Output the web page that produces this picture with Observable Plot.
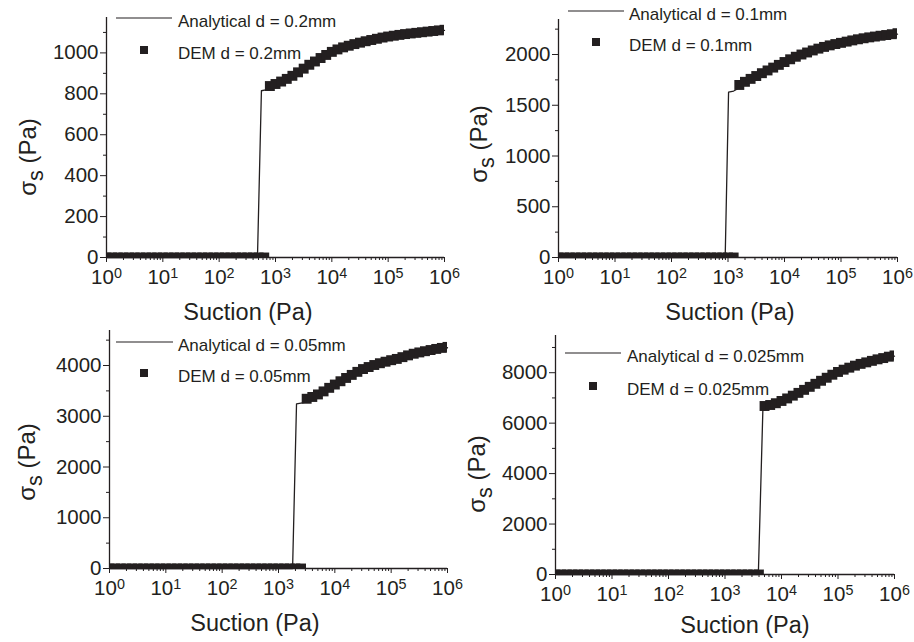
<!DOCTYPE html>
<html><head><meta charset="utf-8">
<script src="https://cdn.jsdelivr.net/npm/d3@7"></script>
<script src="https://cdn.jsdelivr.net/npm/@observablehq/plot@0.6"></script>
<style>
body{margin:0;background:#fff;}
#chart{position:relative;width:914px;height:642px;overflow:hidden;background:#fff;font-family:"Liberation Sans",Arial,sans-serif;}
#chart svg{position:absolute;left:0;top:0;}
</style></head><body><div id="chart"></div>
<script>
// Suction grid (log10 of suction, Pa) for the DEM points
const suctionExp = [0,0.1,0.2,0.3,0.4,0.5,0.6,0.7,0.8,0.9,1.0,1.1,1.2,1.3,1.4,1.5,1.6,1.7,1.8,1.9,2.0,2.1,2.2,2.3,2.4,2.5,2.6,2.7,2.8,2.9,3.0,3.1,3.2,3.3,3.4,3.5,3.6,3.7,3.8,3.9,4.0,4.1,4.2,4.3,4.4,4.5,4.6,4.7,4.8,4.9,5.0,5.1,5.2,5.3,5.4,5.5,5.6,5.7,5.8,5.9,6.0];

// DEM sigma_s (Pa) on the grid above
const dem02 = [0,0,0,0,0,0,0,0,0,0,0,0,0,0,0,0,0,0,0,0,0,0,0,0,0,0,0,0,0,
  838,848,860,873,888,905,923,942,958,975,990,1005,1017,1027,1035,1043,1050,1057,1063,1069,1075,1080,1084,1088,1092,1095,1098,1101,1104,1107,1110,1113];
const dem01 = [0,0,0,0,0,0,0,0,0,0,0,0,0,0,0,0,0,0,0,0,0,0,0,0,0,0,0,0,0,0,0,0,
  1700,1731,1760,1788,1816,1843,1871,1898,1926,1953,1978,2000,2020,2040,2058,2075,2090,2103,2115,2127,2139,2150,2160,2169,2177,2185,2192,2200,2210];
const dem005 = [0,0,0,0,0,0,0,0,0,0,0,0,0,0,0,0,0,0,0,0,0,0,0,0,0,0,0,0,0,0,0,0,0,0,0,
  3345,3380,3430,3490,3560,3625,3690,3755,3815,3875,3930,3970,4010,4045,4075,4105,4130,4165,4200,4232,4258,4282,4305,4327,4347,4367];
const dem0025 = [0,0,0,0,0,0,0,0,0,0,0,0,0,0,0,0,0,0,0,0,0,0,0,0,0,0,0,0,0,0,0,0,0,0,0,0,0,
  6680,6720,6790,6880,6980,7090,7200,7320,7440,7560,7680,7800,7920,8030,8120,8200,8280,8350,8410,8470,8530,8580,8635,8685];

// Analytical curves (log10 suction, sigma_s)
const ana02Exp = [0,2.68,2.75,2.85,3.2,3.5,4.0,4.5,5.0,5.5,6.0];
const ana02    = [0,0,815,820,865,915,1000,1046,1076,1095,1110];
const ana01Exp = [0,2.95,3.01,3.1,3.3,3.6,4.0,4.5,5.0,5.5,6.0];
const ana01    = [0,0,1629,1640,1700,1790,1905,2025,2105,2160,2200];
const ana005Exp = [0,3.25,3.32,3.45,3.7,4.0,4.5,5.0,5.5,6.0];
const ana005    = [0,0,3246,3270,3400,3600,3910,4090,4245,4350];
const ana0025Exp = [0,3.59,3.67,3.8,4.0,4.5,5.0,5.5,6.0];
const ana0025    = [0,0,6507,6600,6830,7400,7990,8370,8660];

// Tick values
const xMajor = [1,10,100,1000,10000,100000,1000000];
const xMinor = [2,3,4,5,6,7,8,9,20,30,40,50,60,70,80,90,200,300,400,500,600,700,800,900,2000,3000,4000,5000,6000,7000,8000,9000,20000,30000,40000,50000,60000,70000,80000,90000,200000,300000,400000,500000,600000,700000,800000,900000];
const y02Major = [0,200,400,600,800,1000];
const y02Minor = [100,300,500,700,900,1100];
const y01Major = [0,500,1000,1500,2000];
const y01Minor = [250,750,1250,1750,2250];
const y005Major = [0,1000,2000,3000,4000];
const y005Minor = [500,1500,2500,3500,4500];
const y0025Major = [0,2000,4000,6000,8000];
const y0025Minor = [1000,3000,5000,7000,9000];

const legendAnalytical = ["Analytical d = 0.2mm","Analytical d = 0.1mm","Analytical d = 0.05mm","Analytical d = 0.025mm"];
const legendDEM = ["DEM d = 0.2mm","DEM d = 0.1mm","DEM d = 0.05mm","DEM d = 0.025mm"];
const xTitle = "Suction (Pa)";

const INK = "#231f20";
const FONT = "'Liberation Sans', Arial, sans-serif";

const panels = [
  {dem: dem02, anaExp: ana02Exp, ana: ana02, yMax: 1173, yMajor: y02Major, yMinor: y02Minor,
   frame: [106, 444, 17, 257], leg: {lx1:116, lx2:172, ly:18, sx:144, sy:50, tx:178}, xt: [248, 320], yt: [28, 157]},
  {dem: dem01, anaExp: ana01Exp, ana: ana01, yMax: 2345, yMajor: y01Major, yMinor: y01Minor,
   frame: [558, 897, 19, 257], leg: {lx1:568, lx2:624, ly:11, sx:596, sy:42, tx:629}, xt: [730, 320], yt: [479, 144]},
  {dem: dem005, anaExp: ana005Exp, ana: ana005, yMax: 4690, yMajor: y005Major, yMinor: y005Minor,
   frame: [109, 447, 330, 568], leg: {lx1:116, lx2:173, ly:342, sx:144, sy:373, tx:178}, xt: [255, 631], yt: [27, 462]},
  {dem: dem0025, anaExp: ana0025Exp, ana: ana0025, yMax: 9475, yMajor: y0025Major, yMinor: y0025Minor,
   frame: [555, 894, 335, 574], leg: {lx1:565, lx2:621, ly:353, sx:593, sy:386, tx:627}, xt: [745, 633], yt: [477, 474]}
];

const chart = document.getElementById("chart");

panels.forEach((p, k) => {
  const dem = suctionExp.map((e, i) => ({x: 10 ** e, y: p.dem[i]}));
  const ana = p.anaExp.map((e, i) => ({x: 10 ** e, y: p.ana[i]}));
  const [fl, fr, ft, fb] = p.frame;
  const svg = Plot.plot({
    width: 914, height: 642,
    marginLeft: fl, marginRight: 914 - fr, marginTop: ft, marginBottom: 642 - fb,
    style: {background: "transparent", fontFamily: FONT, color: INK, overflow: "visible"},
    x: {type: "log", domain: [1, 1e6]},
    y: {domain: [0, p.yMax]},
    marks: [
      Plot.axisX({ticks: xMinor, tickSize: 3, tickFormat: () => "", label: null, stroke: INK}),
      Plot.axisX({ticks: xMajor, tickSize: 5, tickPadding: 7, fontSize: 20.5, label: null, stroke: INK,
        tickFormat: d => "10^" + Math.round(Math.log10(d))}),
      Plot.axisY({ticks: p.yMinor, tickSize: 3, tickFormat: () => "", label: null, stroke: INK}),
      Plot.axisY({ticks: p.yMajor, tickSize: 6, tickPadding: 2, fontSize: 20.5, label: null, stroke: INK,
        tickFormat: d => String(d)}),
      Plot.ruleY([0], {stroke: INK, strokeWidth: 1.3}),
      Plot.ruleX([1], {stroke: INK, strokeWidth: 1.3}),
      Plot.line(ana, {x: "x", y: "y", stroke: INK, strokeWidth: 1.3}),
      Plot.dot(dem, {x: "x", y: "y", symbol: "square", r: 5.6, fill: INK, stroke: null, clip: true})
    ]
  });
  const s = d3.select(svg);
  // superscript exponents on x tick labels
  s.selectAll("text").each(function() {
    const t = this.textContent;
    if (!/^10\^\d$/.test(t)) return;
    const [b, e] = t.split("^");
    this.textContent = "";
    d3.select(this).append("tspan").text(b);
    d3.select(this).append("tspan").attr("dy", "-0.42em").attr("font-size", "0.7em").text(e);
  });
  const L = p.leg;
  const g = s.append("g").attr("font-family", FONT).attr("fill", INK).attr("text-anchor", "start");
  g.append("line").attr("x1", L.lx1).attr("x2", L.lx2).attr("y1", L.ly).attr("y2", L.ly)
    .attr("stroke", INK).attr("stroke-width", 1.2);
  g.append("text").attr("x", L.tx).attr("y", L.ly + 3).attr("dy", "0.35em").attr("font-size", 17)
    .text(legendAnalytical[k]);
  g.append("rect").attr("x", L.sx - 4).attr("y", L.sy - 4).attr("width", 8).attr("height", 8).attr("fill", INK);
  g.append("text").attr("x", L.tx).attr("y", L.sy + 3).attr("dy", "0.35em").attr("font-size", 17)
    .text(legendDEM[k]);
  // axis titles
  g.append("text").attr("x", p.xt[0]).attr("y", p.xt[1]).attr("text-anchor", "middle").attr("font-size", 23.5)
    .text(xTitle);
  const yt = g.append("text").attr("transform", `translate(${p.yt[0]},${p.yt[1]}) rotate(-90)`)
    .attr("text-anchor", "middle").attr("dy", "0.35em").attr("font-size", 24);
  yt.append("tspan").text("σ");
  yt.append("tspan").attr("dy", "0.3em").attr("font-size", "0.9em").text("s");
  yt.append("tspan").attr("dy", "-0.3em").text(" (Pa)");
  chart.appendChild(svg);
});
</script></body></html>
